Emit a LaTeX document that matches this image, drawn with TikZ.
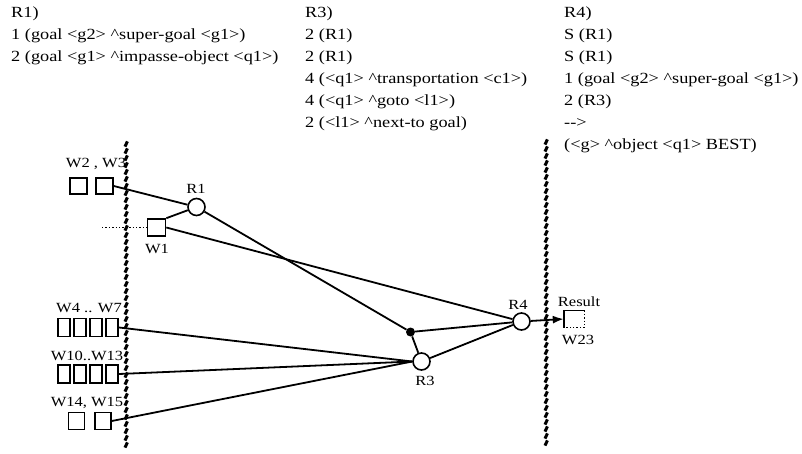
\documentclass[tikz,border=0pt]{standalone}
\usepackage{fontspec}
\setmainfont[FakeStretch=1.18]{Liberation Serif}
\usetikzlibrary{arrows.meta}
\begin{document}
\begin{tikzpicture}[x=1pt,y=-1pt,
  txt/.style={anchor=base west, inner sep=0, font=\fontsize{15.5}{18}\selectfont},
  lbl/.style={inner sep=0, font=\fontsize{14}{16}\selectfont},
  wbox/.style={draw, line width=1.6pt, inner sep=0},
  rulecirc/.style={circle, draw, line width=1.6pt, minimum size=17pt, inner sep=0},
  conn/.style={line width=1.8pt},
  barrier/.style={line width=3pt}]
\useasboundingbox (0,0) rectangle (802,454);
% ---- text blocks ----
\node[txt] (a0) at (11,18) {R1)};
\node[txt] (a1) at (11,40) {1 (goal <g2> \textasciicircum super-goal <g1>)};
\node[txt] (a2) at (11,62) {2 (goal <g1> \textasciicircum impasse-object <q1>)};
\node[txt] (b0) at (305,18) {R3)};
\node[txt] (b1) at (305,40) {2 (R1)};
\node[txt] (b2) at (305,62) {2 (R1)};
\node[txt] (b3) at (305,84) {4 (<q1> \textasciicircum transportation <c1>)};
\node[txt] (b4) at (305,106) {4 (<q1> \textasciicircum goto <l1>)};
\node[txt] (b5) at (305,128) {2 (<l1> \textasciicircum next-to goal)};
\node[txt] (c0) at (564,18) {R4)};
\node[txt] (c1) at (564,40) {S (R1)};
\node[txt] (c2) at (564,62) {S (R1)};
\node[txt] (c3) at (564,84) {1 (goal <g2> \textasciicircum super-goal <g1>)};
\node[txt] (c4) at (564,106) {2 (R3)};
\node[txt] (c5) at (564,128) {{-}{-}>};
\node[txt] (c6) at (564,150) {(<g> \textasciicircum object <q1> BEST)};
% ---- barriers ----
\foreach \yy in {144,151,...,449} {
  \draw[barrier] (125,\yy+2.6) -- (127.4,\yy-2.6);
}
\foreach \yy in {142,149,...,449} {
  \draw[barrier] (545,\yy+2.6) -- (547.4,\yy-2.6);
}
% ---- boxes ----
\node[wbox, minimum width=17pt, minimum height=16pt] (w2) at (78.5,186) {};
\node[wbox, minimum width=17pt, minimum height=16pt] (w3) at (104.5,186) {};
\node[wbox, minimum width=18pt, minimum height=17pt] (w1) at (156.5,227.5) {};
\node[wbox, minimum width=12.5pt, minimum height=18pt] (w4) at (64,327.5) {};
\node[wbox, minimum width=12.5pt, minimum height=18pt] (w5) at (80,327.5) {};
\node[wbox, minimum width=12.5pt, minimum height=18pt] (w6) at (96,327.5) {};
\node[wbox, minimum width=12.5pt, minimum height=18pt] (w7) at (112,327.5) {};
\node[wbox, minimum width=12.5pt, minimum height=18pt] (w10) at (64,374) {};
\node[wbox, minimum width=12.5pt, minimum height=18pt] (w11) at (80,374) {};
\node[wbox, minimum width=12.5pt, minimum height=18pt] (w12) at (96,374) {};
\node[wbox, minimum width=12.5pt, minimum height=18pt] (w13) at (112,374) {};
\node[wbox, minimum width=16pt, minimum height=17pt] (w14) at (76.5,421) {};
\node[wbox, minimum width=16pt, minimum height=17pt] (w15) at (103,421) {};
\node[inner sep=0, minimum width=20pt, minimum height=17pt] (w23) at (574,319) {};
\draw[line width=1.4pt] (w23.south west) -- (w23.north west) -- (w23.north east);
\draw[line width=1.4pt, dotted] (w23.north east) -- (w23.south east) -- (w23.south west);
% ---- rule nodes ----
\node[rulecirc] (r1) at (196.5,207) {};
\node[rulecirc] (r3) at (421.5,361.5) {};
\node[rulecirc] (r4) at (521.5,321.5) {};
\node[circle, fill, inner sep=0, minimum size=9pt] (dot) at (410.5,332) {};
% ---- labels ----
\node[lbl] (lw23a) at (96,164) {W2 , W3};
\node[lbl] (lr1) at (196,189) {R1};
\node[lbl] (lw1) at (157,249) {W1};
\node[lbl] (lw47) at (89,308) {W4 .. W7};
\node[lbl] (lw1013) at (87,356) {W10..W13};
\node[lbl] (lw1415) at (87,403) {W14, W15};
\node[lbl] (lr4) at (518,305) {R4};
\node[lbl] (lr3) at (425,381) {R3};
\node[lbl] (lres) at (579,302) {Result};
\node[lbl] (lw23) at (578,340) {W23};
% ---- connectors ----
\coordinate (dl) at (102,227.5);
\draw[dotted, line width=1.4pt] (dl) -- (w1.west);
\draw[conn] (w3.east) -- (r1);
\draw[conn] (w1.north east) -- (r1);
\draw[conn] (w1.east) -- (r4);
\draw[conn] (r1) -- (dot);
\draw[conn] (dot) -- (r4);
\draw[conn] (dot) -- (r3);
\draw[conn] (r3) -- (r4);
\draw[conn] (w7.east) -- (r3.west);
\draw[conn] (w13.east) -- (r3.west);
\draw[conn] (w15.east) -- (r3.west);
\draw[conn, -{Latex[length=11pt,width=8pt]}] (r4) -- (w23.west);
\end{tikzpicture}
\end{document}
